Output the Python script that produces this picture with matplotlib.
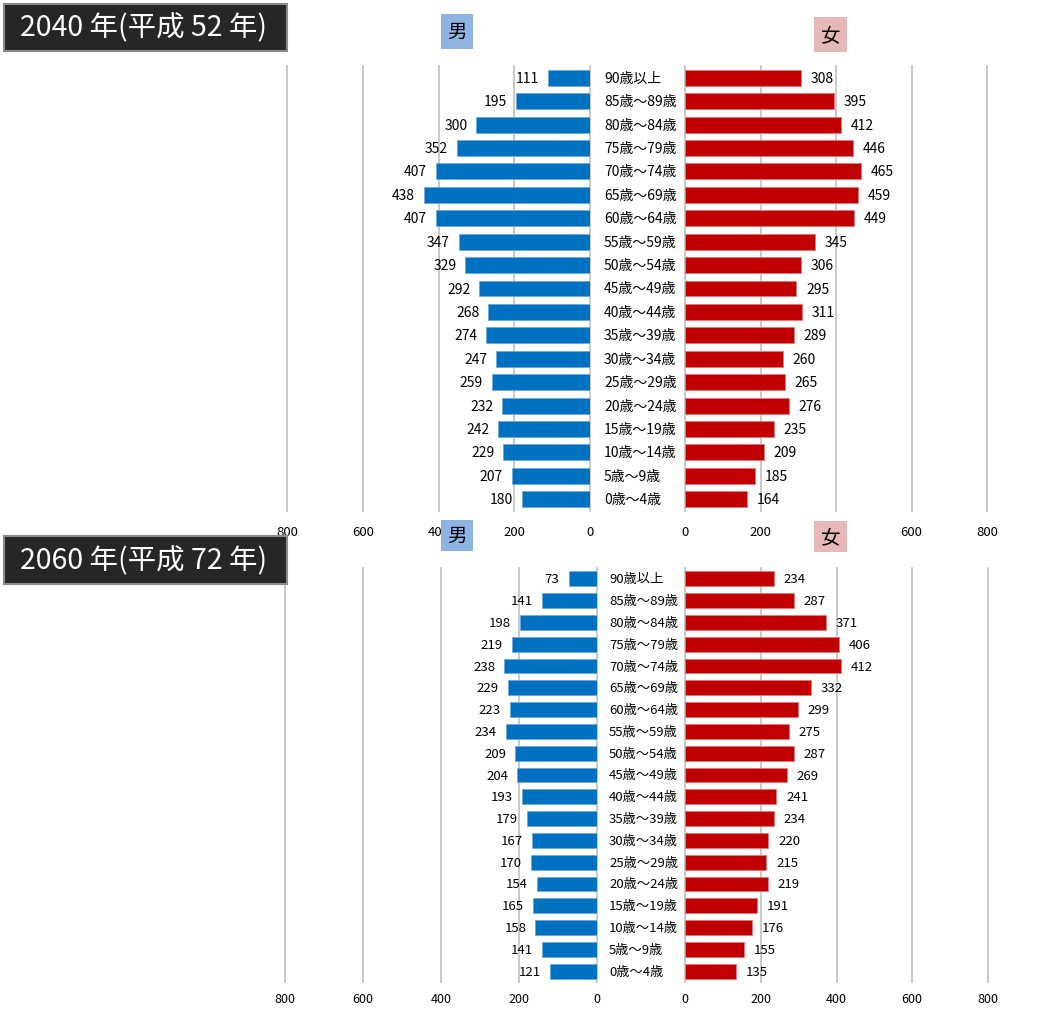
import matplotlib.pyplot as plt
from matplotlib.patches import Rectangle
from matplotlib.transforms import blended_transform_factory

plt.rcParams['font.family'] = ['Noto Sans CJK JP', 'DejaVu Sans']

# age groups, oldest first (top row of the pyramid)
ages = ['90歳以上', '85歳～89歳', '80歳～84歳', '75歳～79歳', '70歳～74歳',
        '65歳～69歳', '60歳～64歳', '55歳～59歳', '50歳～54歳', '45歳～49歳',
        '40歳～44歳', '35歳～39歳', '30歳～34歳', '25歳～29歳', '20歳～24歳',
        '15歳～19歳', '10歳～14歳', '5歳～9歳', '0歳～4歳']

male_2040 = [111, 195, 300, 352, 407, 438, 407, 347, 329, 292,
             268, 274, 247, 259, 232, 242, 229, 207, 180]
female_2040 = [308, 395, 412, 446, 465, 459, 449, 345, 306, 295,
               311, 289, 260, 265, 276, 235, 209, 185, 164]
male_2060 = [73, 141, 198, 219, 238, 229, 223, 234, 209, 204,
             193, 179, 167, 170, 154, 165, 158, 141, 121]
female_2060 = [234, 287, 371, 406, 412, 332, 299, 275, 287, 269,
               241, 234, 220, 215, 219, 191, 176, 155, 135]

ticks = [0, 200, 400, 600, 800]

W, H = 1052, 1012
fig = plt.figure(figsize=(W / 100, H / 100), dpi=100)

BLUE = '#0070C0'
RED = '#C00000'
GRID = '#C0C0C0'


def px_axes(x0, y0, x1, y1):
    return fig.add_axes([x0 / W, 1 - y1 / H, (x1 - x0) / W, (y1 - y0) / H])


def label_box(x0, y0, x1, y1, text, color):
    fig.add_artist(Rectangle((x0 / W, 1 - y1 / H), (x1 - x0) / W, (y1 - y0) / H,
                             transform=fig.transFigure, facecolor=color,
                             edgecolor='none', zorder=5))
    fig.text((x0 + x1) / 2 / W, 1 - (y0 + y1) / 2 / H, text, ha='center',
             va='center', fontsize=14, color='black', zorder=6)


def title_box(y0, y1, text):
    fig.add_artist(Rectangle((4 / W, 1 - y1 / H), 283 / W, (y1 - y0) / H,
                             transform=fig.transFigure, facecolor='#262626',
                             edgecolor='#8a8a8a', linewidth=1.5, zorder=5))
    fig.text(144 / W, 1 - (y0 + y1) / 2 / H, text, ha='center', va='center',
             fontsize=20.5, color='white', zorder=6)


def style_axis(ax, pad):
    ax.set_xlim(0, 800)
    ax.set_xticks(ticks)
    ax.set_ylim(len(ages) - 0.5, -0.5)
    ax.set_yticks([])
    ax.tick_params(axis='x', length=0, pad=pad)
    for s in ax.spines.values():
        s.set_visible(False)
    ax.set_axisbelow(True)
    ax.grid(axis='x', color=GRID, linewidth=1.2)
    for line in ax.get_xgridlines():
        line.set_clip_on(False)
    ax.patch.set_alpha(0)


def panel(male, female, m_ext, f_ext, y_ext, label_x, fs, pad):
    ax_m = px_axes(m_ext[0], y_ext[0], m_ext[1], y_ext[1])
    ax_f = px_axes(f_ext[0], y_ext[0], f_ext[1], y_ext[1])
    y = range(len(ages))

    ax_m.barh(y, male, height=0.68, color=BLUE, edgecolor='#6FA8D8', linewidth=0.6)
    ax_f.barh(y, female, height=0.68, color=RED, edgecolor='#E07A7A', linewidth=0.6)
    style_axis(ax_m, pad)
    style_axis(ax_f, pad)
    ax_m.invert_xaxis()
    for ax in (ax_m, ax_f):
        for t in ax.get_xticklabels():
            t.set_fontsize(fs - 0.5)

    for i, (m, f) in enumerate(zip(male, female)):
        ax_m.annotate(str(m), (m, i), xytext=(-6.5, 0), textcoords='offset points',
                      ha='right', va='center', fontsize=fs)
        ax_f.annotate(str(f), (f, i), xytext=(7, 0), textcoords='offset points',
                      ha='left', va='center', fontsize=fs)

    tr = blended_transform_factory(fig.transFigure, ax_m.transData)
    for i, a in enumerate(ages):
        fig.text(label_x / W, i, a, transform=tr, ha='left', va='center', fontsize=fs)


# 2040
panel(male_2040, female_2040, (287, 590), (685, 987), (67, 512), 604, 10, 10)
title_box(5, 52, '2040 年(平成 52 年)')
label_box(441, 15, 473, 50, '男', '#8DB4E2')
label_box(814, 18, 847, 53, '女', '#E6B8B7')

# 2060
panel(male_2060, female_2060, (285, 597), (685, 988), (569, 983), 609, 9.5, 7)
title_box(537, 585, '2060 年(平成 72 年)')
label_box(441, 521, 473, 552, '男', '#8DB4E2')
label_box(814, 522, 847, 553, '女', '#E6B8B7')

fig.savefig('out.png', dpi=100)
